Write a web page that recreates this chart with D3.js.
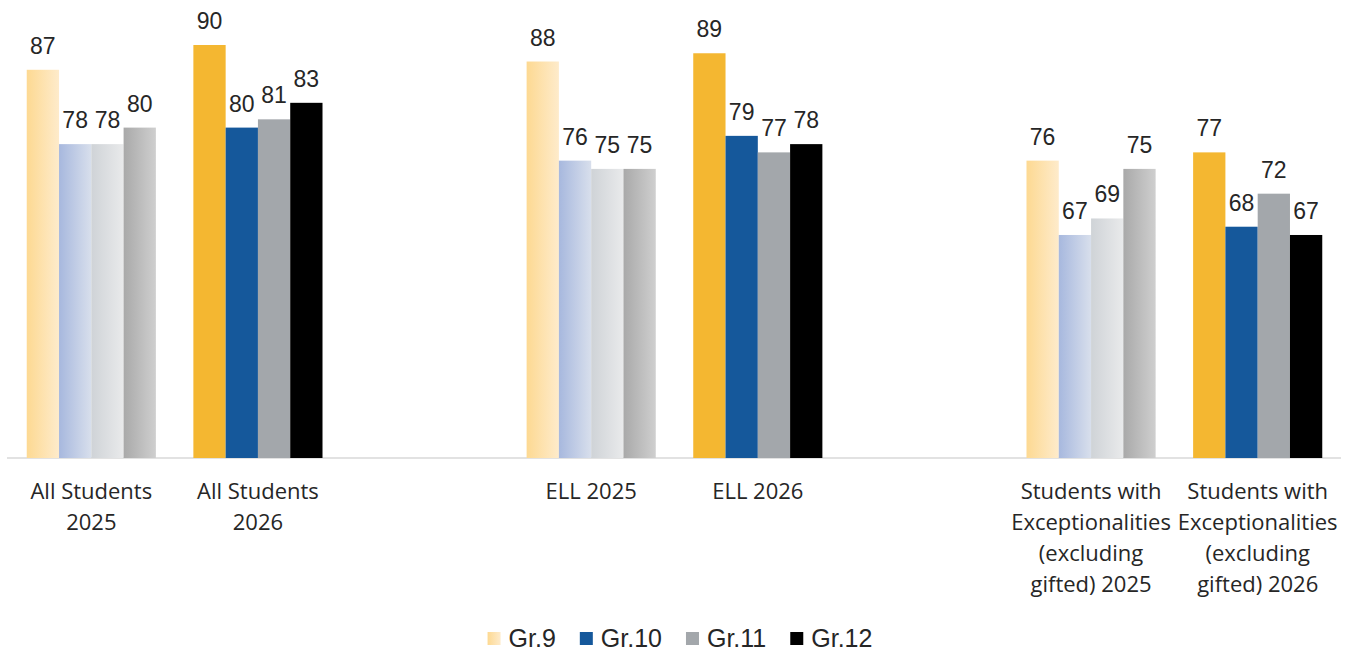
<!DOCTYPE html>
<html>
<head>
<meta charset="utf-8">
<script src="https://cdn.jsdelivr.net/npm/d3@7"></script>
<style>
  html, body { margin: 0; padding: 0; background: #fff; }
  svg { display: block; }
</style>
</head>
<body>
<svg id="chart" width="1356" height="656"></svg>
<script>
// ---- data ----
const categories = ["All Students 2025", "All Students 2026", "gap1", "ELL 2025", "ELL 2026", "gap2",
  "Students with Exceptionalities (excluding gifted) 2025", "Students with Exceptionalities (excluding gifted) 2026"];
const categoryLines = [
  ["All Students", "2025"],
  ["All Students", "2026"],
  [],
  ["ELL 2025"],
  ["ELL 2026"],
  [],
  ["Students with", "Exceptionalities", "(excluding", "gifted) 2025"],
  ["Students with", "Exceptionalities", "(excluding", "gifted) 2026"]
];
const grades = ["Gr.9", "Gr.10", "Gr.11", "Gr.12"];
const gr9  = [87, 90, null, 88, 89, null, 76, 77];
const gr10 = [78, 80, null, 76, 79, null, 67, 68];
const gr11 = [78, 81, null, 75, 77, null, 69, 72];
const gr12 = [80, 83, null, 75, 78, null, 75, 67];
const series = [gr9, gr10, gr11, gr12];
const cohortYear = ["2025", "2026", "", "2025", "2026", "", "2025", "2026"];

// ---- drawing ----
const svg = d3.select("#chart");
const defs = svg.append("defs");

const gradStops = [
  ["#FDD992", "#FEEBCB"],
  ["#A7B8DE", "#D8DFEC"],
  ["#CFD3D7", "#E9EAEB"],
  ["#A9A9A9", "#CFCFCF"]
];
gradStops.forEach((s, i) => {
  const g = defs.append("linearGradient").attr("id", "g" + i)
    .attr("x1", "0%").attr("x2", "100%").attr("y1", "0%").attr("y2", "0%");
  g.append("stop").attr("offset", "0%").attr("stop-color", s[0]);
  g.append("stop").attr("offset", "100%").attr("stop-color", s[1]);
});
const solid = ["#F4B731", "#15589B", "#A3A7AB", "#000000"];

const fillFor = (gi, ci) => cohortYear[ci] === "2025" ? `url(#g${gi})` : solid[gi];

const x0 = d3.scaleBand().domain(categories).range([8, 1341]).paddingInner(0.225).paddingOuter(0.1125);
const x1 = d3.scaleBand().domain(grades).range([0, x0.bandwidth()]);
const y = d3.scaleLinear().domain([40, 90]).range([458, 45]);

// baseline axis
const axis = d3.axisBottom(x0).tickSize(0).tickFormat("");
const axG = svg.append("g").attr("transform", `translate(0,${y(40)})`).call(axis);
axG.select(".domain").attr("stroke", "#D9D9D9").attr("stroke-width", 1.5).attr("d", "M7,0H1341");

const data = [];
categories.forEach((c, ci) => {
  series.forEach((s, gi) => {
    if (s[ci] != null) data.push({ c, ci, gi, v: s[ci] });
  });
});

svg.append("g").selectAll("rect").data(data).join("rect")
  .attr("x", d => x0(d.c) + x1(grades[d.gi]))
  .attr("width", x1.bandwidth())
  .attr("y", d => y(d.v))
  .attr("height", d => y(40) - y(d.v))
  .attr("fill", d => fillFor(d.gi, d.ci));

svg.append("g").selectAll("text").data(data).join("text")
  .attr("x", d => x0(d.c) + x1(grades[d.gi]) + x1.bandwidth() / 2)
  .attr("y", d => y(d.v) - 16)
  .attr("text-anchor", "middle")
  .attr("font-family", "'Liberation Sans', Arial, sans-serif")
  .attr("font-size", 23)
  .attr("fill", "#262626")
  .text(d => d.v);

// category labels
const catG = svg.append("g");
categories.forEach((c, ci) => {
  const t = catG.append("text")
    .attr("x", x0(c) + x0.bandwidth() / 2)
    .attr("y", 499)
    .attr("text-anchor", "middle")
    .attr("font-family", "'Open Sans', sans-serif")
    .attr("font-size", 22)
    .attr("fill", "#262626");
  categoryLines[ci].forEach((ln, li) => {
    t.append("tspan").attr("x", x0(c) + x0.bandwidth() / 2).attr("dy", li === 0 ? 0 : 31).text(ln);
  });
});

// legend
const legFills = ["url(#g0)", solid[1], solid[2], solid[3]];
const leg = svg.append("g");
let lx = 0;
grades.forEach((g, i) => {
  const it = leg.append("g");
  it.append("rect").attr("x", 0).attr("y", -7).attr("width", 13).attr("height", 13).attr("fill", legFills[i]);
  const tx = it.append("text").attr("x", 21).attr("y", 8)
    .attr("font-family", "'Liberation Sans', Arial, sans-serif")
    .attr("font-size", 25).attr("fill", "#262626").text(g);
  const w = 21 + tx.node().getComputedTextLength();
  it.attr("transform", `translate(${lx},0)`);
  lx += w + 24;
});
const totalW = lx - 24;
leg.attr("transform", `translate(${680 - totalW / 2},639)`);
</script>
</body>
</html>
